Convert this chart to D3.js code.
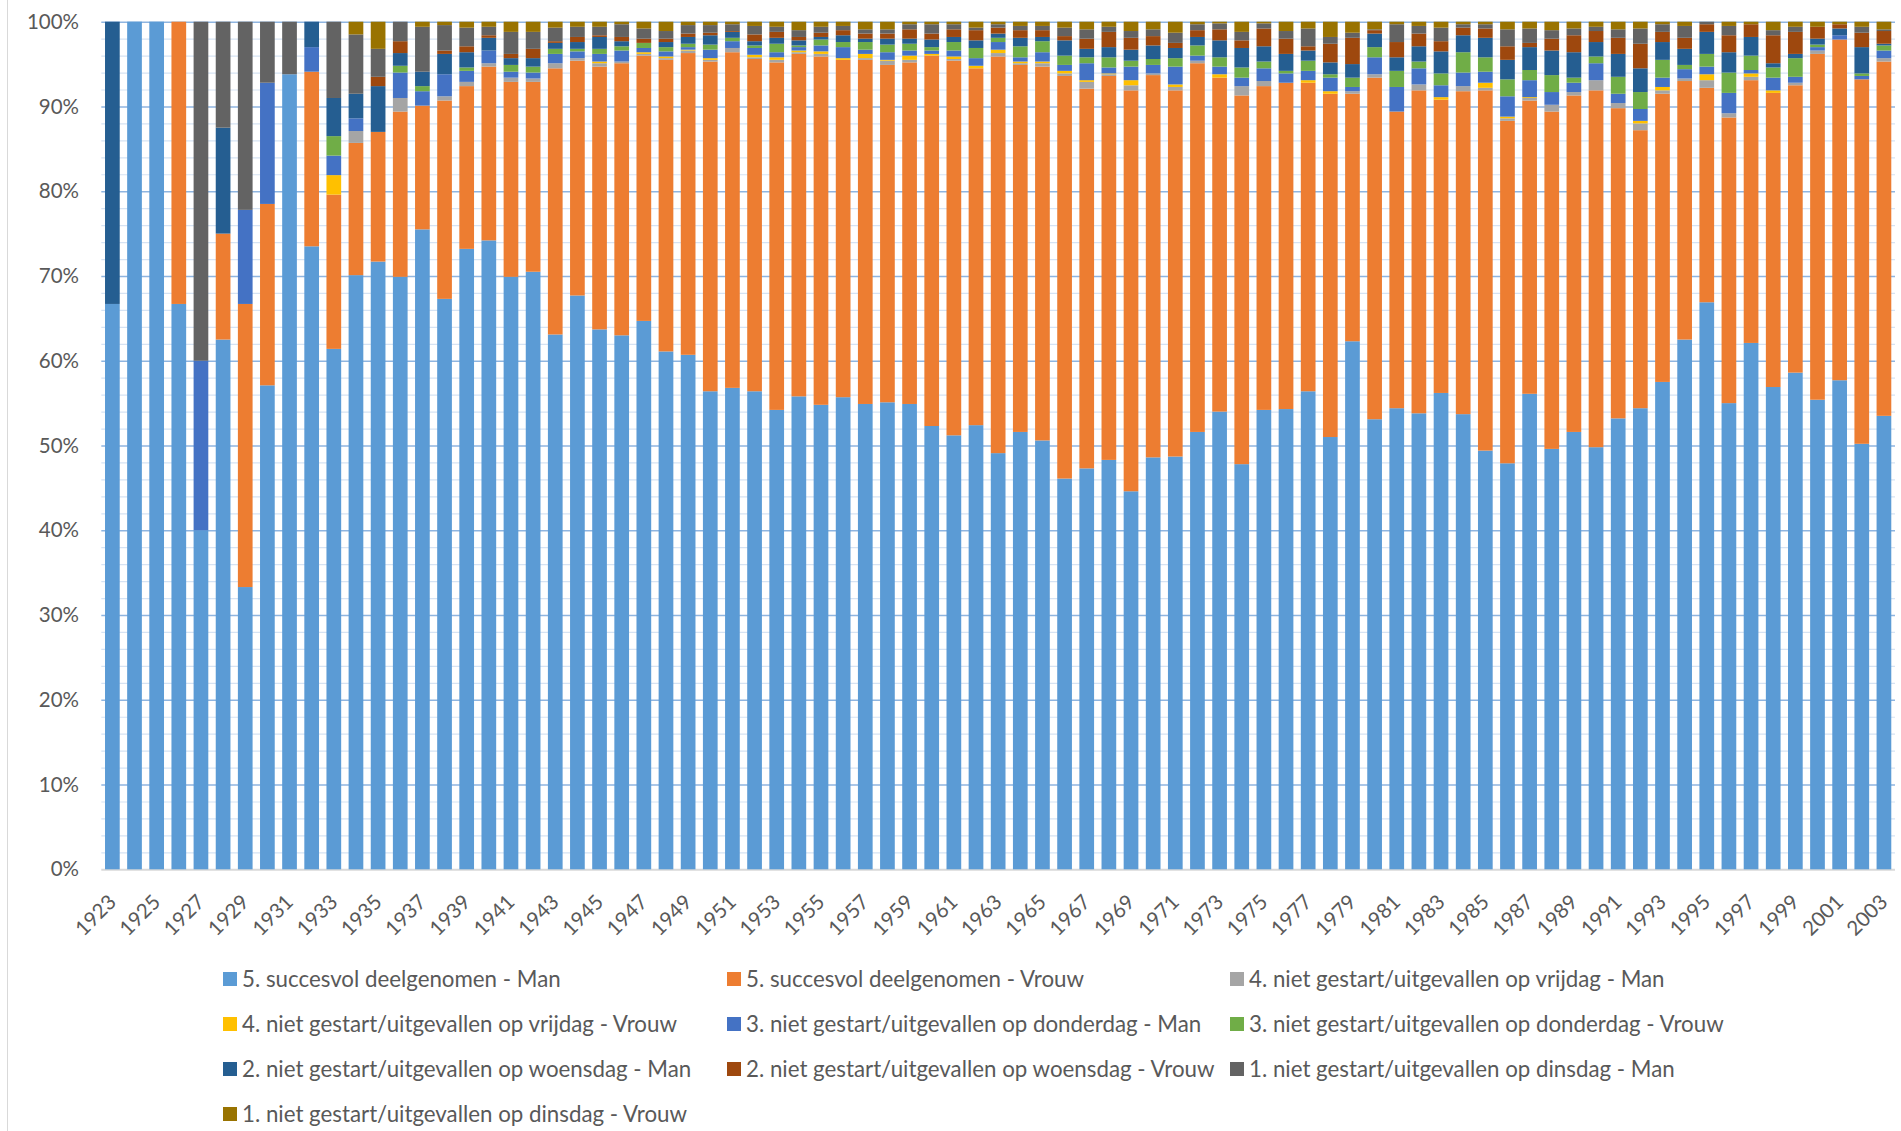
<!DOCTYPE html>
<html>
<head>
<meta charset="utf-8">
<script src="https://cdn.jsdelivr.net/npm/d3@7"></script>
<style>
  body { margin: 0; background: #fff; }
  svg { display: block; font-family: Lato, "Open Sans", sans-serif; }
</style>
</head>
<body>
<script>
const width = 1901;
const height = 1131;
const leftEdge = 101.3;
const rightEdge = 1895;
const topEdge = 21.7;
const bottomEdge = 869.3;

const years = [1923, 1924, 1925, 1926, 1927, 1928, 1929, 1930, 1931, 1932,
  1933, 1934, 1935, 1936, 1937, 1938, 1939, 1940, 1941, 1942,
  1943, 1944, 1945, 1946, 1947, 1948, 1949, 1950, 1951, 1952,
  1953, 1954, 1955, 1956, 1957, 1958, 1959, 1960, 1961, 1962,
  1963, 1964, 1965, 1966, 1967, 1968, 1969, 1970, 1971, 1972,
  1973, 1974, 1975, 1976, 1977, 1978, 1979, 1980, 1981, 1982,
  1983, 1984, 1985, 1986, 1987, 1988, 1989, 1990, 1991, 1992,
  1993, 1994, 1995, 1996, 1997, 1998, 1999, 2000, 2001, 2002, 2003];

const yTickLabels = ["0%", "10%", "20%", "30%", "40%", "50%", "60%", "70%", "80%", "90%", "100%"];

const seriesNames = [
  "5. succesvol deelgenomen - Man",
  "5. succesvol deelgenomen - Vrouw",
  "4. niet gestart/uitgevallen op vrijdag - Man",
  "4. niet gestart/uitgevallen op vrijdag - Vrouw",
  "3. niet gestart/uitgevallen op donderdag - Man",
  "3. niet gestart/uitgevallen op donderdag - Vrouw",
  "2. niet gestart/uitgevallen op woensdag - Man",
  "2. niet gestart/uitgevallen op woensdag - Vrouw",
  "1. niet gestart/uitgevallen op dinsdag - Man",
  "1. niet gestart/uitgevallen op dinsdag - Vrouw"
];
const colors = ["#5B9BD5", "#ED7D31", "#A5A5A5", "#FFC000", "#4472C4",
  "#70AD47", "#255E91", "#9E480E", "#636363", "#997300"];

// percentages per year
const succesMan = [66.7, 100, 100, 66.7, 40, 62.5, 33.3, 57.1, 93.8, 73.5,
  61.4, 70.1, 71.7, 69.9, 75.5, 67.3, 73.2, 74.2, 69.9, 70.5,
  63.1, 67.7, 63.7, 63.0, 64.7, 61.1, 60.7, 56.4, 56.8, 56.4,
  54.2, 55.8, 54.8, 55.7, 54.9, 55.1, 54.9, 52.3, 51.2, 52.4,
  49.1, 51.6, 50.6, 46.1, 47.3, 48.3, 44.6, 48.6, 48.7, 51.6,
  54.0, 47.8, 54.2, 54.3, 56.4, 51.0, 62.3, 53.1, 54.4, 53.8,
  56.2, 53.7, 49.4, 47.9, 56.1, 49.6, 51.6, 49.8, 53.2, 54.4,
  57.5, 62.5, 66.9, 55.0, 62.1, 56.9, 58.6, 55.4, 57.7, 50.2, 53.5];
const succesVrouw = [0, 0, 0, 33.3, 0, 12.5, 33.4, 21.4, 0, 20.6,
  18.2, 15.6, 15.3, 19.5, 14.6, 23.4, 19.2, 20.5, 23.0, 22.4,
  31.4, 27.7, 31.0, 32.1, 31.3, 34.4, 35.6, 38.9, 39.6, 39.2,
  41.0, 40.4, 41.1, 39.8, 40.6, 39.8, 40.3, 43.7, 44.2, 42.1,
  46.8, 43.3, 44.1, 47.5, 44.8, 45.3, 47.3, 45.1, 43.2, 43.5,
  39.4, 43.5, 38.2, 38.5, 36.4, 40.5, 29.2, 40.3, 35.0, 38.1,
  34.6, 38.1, 42.5, 40.4, 34.6, 39.8, 39.7, 42.1, 36.6, 32.8,
  34.0, 30.5, 25.3, 33.7, 31.0, 34.7, 33.9, 40.8, 40.2, 43.0, 41.8];
const vrijdagMan = [0, 0, 0, 0, 0, 0, 0, 0, 0, 0,
  0, 1.4, 0, 1.6, 0, 0.5, 0.5, 0.4, 0.5, 0.4,
  0.6, 0.3, 0.4, 0.2, 0.2, 0.2, 0.3, 0.2, 0.5, 0.2,
  0.3, 0.2, 0.3, 0, 0.2, 0.5, 0.3, 0, 0.2, 0,
  0.4, 0.2, 0.4, 0.3, 0.8, 0.2, 0.6, 0.2, 0.4, 0.3,
  0, 1.1, 0.6, 0, 0, 0, 0.3, 0.4, 0, 0.7,
  0, 0.6, 0.3, 0.3, 0.3, 0.8, 0.4, 1.2, 0.6, 0.8,
  0.4, 0.3, 0.9, 0.5, 0.4, 0, 0.3, 0.4, 0, 0, 0.4];
const vrijdagVrouw = [0, 0, 0, 0, 0, 0, 0, 0, 0, 0,
  2.3, 0, 0, 0, 0, 0, 0, 0, 0, 0,
  0, 0, 0.2, 0, 0.2, 0.2, 0.1, 0.2, 0, 0.3,
  0.3, 0.2, 0.3, 0.2, 0.5, 0.1, 0.5, 0.2, 0.3, 0.3,
  0.4, 0.2, 0.2, 0.3, 0.2, 0.1, 0.6, 0, 0.3, 0,
  0.4, 0, 0, 0, 0.3, 0.3, 0, 0, 0, 0,
  0.3, 0, 0.6, 0.2, 0.1, 0, 0, 0, 0, 0.3,
  0.4, 0, 0.7, 0, 0.4, 0.3, 0, 0, 0, 0, 0];
const donderdagMan = [0, 0, 0, 0, 20, 0, 11.1, 14.3, 0, 2.9,
  2.3, 1.5, 0, 3.0, 1.7, 2.6, 1.3, 1.5, 0.7, 0.7,
  1.1, 0.8, 0.9, 1.3, 0.5, 0.6, 0.3, 1.0, 0.8, 0.8,
  0.6, 0.4, 0.7, 1.3, 0.5, 0.9, 0.6, 0.4, 0.7, 0.9,
  0.9, 0.5, 1.1, 0.7, 2.0, 0.7, 1.6, 1.0, 2.1, 0.6,
  0.9, 1.0, 1.5, 1.1, 1.1, 1.6, 0.5, 2.0, 2.9, 1.9,
  1.4, 1.6, 1.3, 2.4, 2.0, 1.5, 1.1, 2.0, 1.1, 1.4,
  1.1, 1.1, 0.9, 2.4, 0.4, 1.5, 0.7, 0.4, 0.5, 0.4, 0.9];
const donderdagVrouw = [0, 0, 0, 0, 0, 0, 0, 0, 0, 0,
  2.3, 0, 0, 0.8, 0.6, 0, 0.4, 0, 0.8, 0.7,
  0.6, 0.3, 0.6, 0.5, 0.6, 0.5, 0.4, 0.6, 0.4, 0.3,
  1.0, 0.2, 0.7, 0.6, 0.9, 0.9, 0.8, 0.4, 1.0, 1.2,
  0.5, 1.3, 1.3, 1.1, 0.7, 1.2, 0.7, 0.7, 1.0, 1.2,
  1.1, 1.2, 0.8, 0.3, 1.2, 0.4, 1.1, 1.2, 1.9, 0.8,
  1.4, 2.4, 1.7, 2.0, 1.2, 2.0, 0.6, 0.8, 2.0, 2.0,
  2.1, 0.5, 1.5, 2.4, 1.7, 1.2, 2.2, 0.3, 0, 0.3, 0.6];
const woensdagMan = [33.3, 0, 0, 0, 0, 12.5, 0, 0, 0, 3.0,
  4.5, 2.9, 5.4, 1.5, 1.7, 2.4, 1.8, 1.5, 0.8, 1.0,
  0.7, 0.8, 1.4, 0.6, 0, 0.6, 0.8, 1.1, 0.7, 0.5,
  0.7, 0.6, 0.3, 0.8, 0.4, 0.7, 0.6, 0.9, 0.6, 0.9,
  0.5, 1.0, 0.5, 1.8, 1.0, 1.2, 1.3, 1.6, 1.2, 1.0,
  2.0, 2.3, 1.8, 2.0, 1.2, 1.4, 1.6, 1.6, 1.6, 1.8,
  2.6, 2.0, 2.3, 2.3, 2.7, 2.9, 3.0, 1.7, 2.7, 2.8,
  2.1, 1.9, 2.6, 2.4, 2.2, 0.5, 0.5, 0.7, 0.8, 3.1, 0.2];
const woensdagVrouw = [0, 0, 0, 0, 0, 0, 0, 0, 0, 0,
  0, 0, 1.1, 1.4, 0, 0.4, 0.7, 0.3, 0.5, 1.1,
  0.2, 0.6, 0.2, 0.5, 0.5, 0.4, 0.4, 0.3, 0.1, 0.8,
  0.7, 0.4, 0.5, 0.6, 0.6, 0.6, 1.1, 0.7, 0.9, 1.2,
  0.7, 0.9, 0.8, 0.5, 1.2, 1.8, 1.4, 1.1, 0.6, 0.8,
  1.3, 0.9, 2.1, 1.8, 0.5, 2.2, 3.1, 0.4, 1.8, 1.5,
  1.2, 0.9, 1.1, 1.6, 0.5, 1.4, 2.0, 1.3, 1.9, 2.9,
  1.2, 1.3, 0.9, 2.0, 1.5, 3.3, 2.6, 1.4, 0.5, 1.7, 1.5];
const dinsdagMan = [0, 0, 0, 0, 40, 12.5, 22.2, 7.2, 6.2, 0,
  9.0, 7.0, 3.3, 2.3, 5.3, 3.0, 2.2, 1.0, 2.6, 2.0,
  1.6, 1.2, 1.0, 1.5, 1.2, 0.9, 1.0, 0.9, 0.8, 1.0,
  0.6, 0.8, 0.7, 0.5, 0.5, 0.5, 0.6, 1.1, 0.6, 0.3,
  0.4, 0.5, 0.5, 1.0, 1.1, 0.6, 0.8, 0.8, 1.2, 0.7,
  0.7, 1.0, 0.6, 0.9, 2.1, 0.8, 0.6, 0.1, 2.1, 0.9,
  1.6, 0.4, 0.5, 2.0, 1.7, 1.0, 0.8, 0.5, 1.0, 1.8,
  0.9, 1.4, 0.3, 1.1, 0, 0.6, 0.6, 0, 0, 0.7, 0.2];
const dinsdagVrouw = [0, 0, 0, 0, 0, 0, 0, 0, 0, 0,
  0, 1.5, 3.2, 0, 0.6, 0.4, 0.7, 0.6, 1.2, 1.2,
  0.7, 0.6, 0.6, 0.3, 0.8, 1.1, 0.4, 0.4, 0.3, 0.5,
  0.6, 1.0, 0.6, 0.5, 0.9, 0.9, 0.3, 0.3, 0.3, 0.7,
  0.3, 0.5, 0.5, 0.7, 0.9, 0.6, 1.1, 0.9, 1.3, 0.3,
  0.2, 1.2, 0.2, 1.1, 0.8, 1.8, 1.3, 0.9, 0.3, 0.5,
  0.7, 0.3, 0.3, 0.9, 0.8, 1.0, 0.8, 0.6, 0.9, 0.8,
  0.3, 0.5, 0, 0.5, 0.3, 1.0, 0.6, 0.6, 0.3, 0.6, 0.9];

const seriesValues = [succesMan, succesVrouw, vrijdagMan, vrijdagVrouw, donderdagMan,
  donderdagVrouw, woensdagMan, woensdagVrouw, dinsdagMan, dinsdagVrouw];

const rows = years.map((yr, i) => {
  const r = { year: yr };
  seriesNames.forEach((name, k) => { r[name] = seriesValues[k][i]; });
  return r;
});

const stacked = d3.stack().keys(seriesNames).offset(d3.stackOffsetExpand)(rows);

const xScale = d3.scaleBand().domain(years)
  .range([leftEdge, rightEdge]).paddingInner(0.336).paddingOuter(0.168);
const yScale = d3.scaleLinear().domain([0, 1]).range([bottomEdge, topEdge]);

const svg = d3.select("body").append("svg")
  .attr("width", width).attr("height", height);

// thin border of the chart area on the left
svg.append("line").attr("x1", 7.5).attr("x2", 7.5).attr("y1", 0).attr("y2", height)
  .attr("stroke", "#d9d9d9").attr("stroke-width", 1);

// minor gridlines (every 2%)
svg.append("g")
  .attr("transform", "translate(" + leftEdge + ",0)")
  .call(d3.axisLeft(yScale).tickValues(d3.range(0, 51).map(d => d / 50).filter((d, i) => i % 5 !== 0))
    .tickSize(-(rightEdge - leftEdge)).tickFormat(""))
  .call(g => g.select(".domain").remove())
  .call(g => g.selectAll("line").attr("stroke", "#d6e3f3").attr("stroke-width", 1.2));

// major gridlines (every 10%), 0% is the gray axis line
svg.append("g")
  .attr("transform", "translate(" + leftEdge + ",0)")
  .call(d3.axisLeft(yScale).ticks(10).tickSize(-(rightEdge - leftEdge)).tickFormat(""))
  .call(g => g.select(".domain").remove())
  .call(g => g.selectAll("line")
    .attr("stroke", d => d === 0 ? "#d9d9d9" : "#8fb5e0")
    .attr("stroke-width", d => d === 0 ? 2 : 1.6));

// bars
svg.append("g").selectAll("g").data(stacked).enter().append("g")
  .attr("fill", (d, i) => colors[i])
  .selectAll("rect").data(d => d).enter().append("rect")
  .attr("x", d => xScale(d.data.year))
  .attr("width", xScale.bandwidth())
  .attr("y", d => yScale(d[1]))
  .attr("height", d => yScale(d[0]) - yScale(d[1]));

// y axis labels
svg.append("g").attr("id", "y-axis")
  .attr("transform", "translate(79,0)")
  .call(d3.axisLeft(yScale).ticks(10).tickSize(0).tickPadding(0)
    .tickFormat((d, i) => yTickLabels[i]))
  .call(g => g.select(".domain").remove())
  .call(g => g.selectAll("text").attr("fill", "#595959").style("font-size", "20.5px")
    .style("font-family", "Lato, sans-serif"));

// x axis labels, every other year
svg.append("g").attr("id", "x-axis")
  .attr("transform", "translate(0," + bottomEdge + ")")
  .call(d3.axisBottom(xScale).tickValues(years.filter((d, i) => i % 2 === 0)).tickSize(0).tickPadding(0))
  .call(g => g.select(".domain").remove())
  .call(g => g.selectAll("text")
    .attr("fill", "#595959").style("font-size", "20.5px").style("font-family", "Lato, sans-serif")
    .attr("text-anchor", "end").attr("dy", null).attr("y", 0)
    .attr("transform", "translate(5,34) rotate(-45)"));

// legend
const legendCols = [223, 727, 1230];
const legendRows = [979, 1024, 1069, 1114];
const legend = svg.append("g").selectAll("g").data(seriesNames).enter().append("g")
  .attr("transform", (d, i) => "translate(" + legendCols[i % 3] + "," + legendRows[Math.floor(i / 3)] + ")");
legend.append("rect").attr("x", 0).attr("y", -7).attr("width", 14).attr("height", 14)
  .attr("fill", (d, i) => colors[i]);
legend.append("text").attr("x", 19).attr("y", 0).attr("dy", "0.35em")
  .attr("fill", "#595959").style("font-size", "22.3px")
  .text(d => d);
</script>
</body>
</html>
